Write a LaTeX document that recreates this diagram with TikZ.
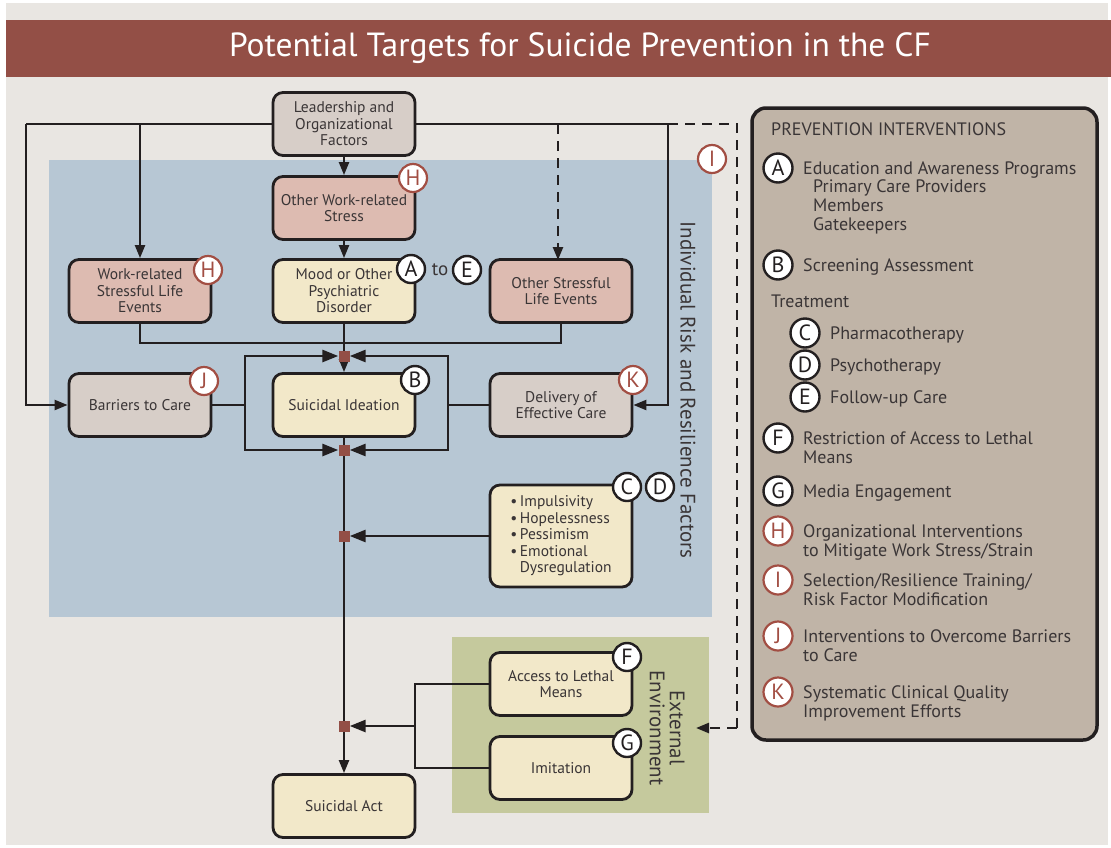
\documentclass[tikz,border=0pt]{standalone}
\usepackage{fontspec}
\setmainfont{PT Sans}
\usetikzlibrary{arrows.meta,backgrounds}
\definecolor{bgc}{HTML}{E9E6E2}
\definecolor{titlec}{HTML}{934F46}
\definecolor{bluec}{HTML}{B7C7D4}
\definecolor{greenc}{HTML}{C5C99D}
\definecolor{panelc}{HTML}{C0B4A7}
\definecolor{grayn}{HTML}{D7CEC8}
\definecolor{pinkn}{HTML}{DDBBB1}
\definecolor{creamn}{HTML}{F2E8C9}
\definecolor{redb}{HTML}{A24E43}
\definecolor{ink}{HTML}{231F20}
\definecolor{txt}{HTML}{3A3536}
\pgfdeclarelayer{base}
\pgfdeclarelayer{regions}
\pgfdeclarelayer{lines}
\pgfsetlayers{base,regions,lines,main}
\tikzset{
  box/.style={draw=ink, line width=2.8pt, rounded corners=10pt, minimum width=142pt,
    minimum height=63pt, align=center, inner sep=2pt, text=txt,
    font=\fontsize{15.5}{16.5}\selectfont},
  conn/.style={draw=ink, line width=2.2pt},
  arr/.style={conn, -{Triangle[length=13pt,width=10pt]}},
  thk/.style={conn, line width=2.8pt},
  tarr/.style={thk, -{Triangle[length=16pt,width=12pt]}},
  dconn/.style={conn, line width=2.4pt, dash pattern=on 10pt off 7pt},
  sq/.style={fill=titlec, minimum size=11pt, inner sep=0pt},
  badgeR/.style={circle, draw=redb, line width=2.2pt, fill=white, text=redb,
    minimum size=28pt, inner sep=0pt, font=\fontsize{22}{22}\selectfont},
  badgeK/.style={circle, draw=ink, line width=2.4pt, fill=white, text=ink,
    minimum size=28pt, inner sep=0pt, font=\fontsize{22}{22}\selectfont},
  ptxt/.style={anchor=base west, inner sep=0pt, text=txt,
    font=\fontsize{18}{19}\selectfont},
  sidelbl/.style={text=txt, font=\fontsize{21}{20}\selectfont, rotate=-90, align=center}
}
\begin{document}
\begin{tikzpicture}[x=1pt,y=-1pt]
\useasboundingbox (0,0) rectangle (1111,847);
\begin{pgfonlayer}{base}
\fill[white] (0,0) rectangle (1111,847);
\fill[bgc] (6,3) rectangle (1108,845);
\fill[titlec] (6,20) rectangle (1111,77);
\end{pgfonlayer}
% title
\node[text=white, font=\fontsize{33.5}{34}\selectfont] (title) at (580,48) {Potential Targets for Suicide Prevention in the CF};

% regions
\begin{pgfonlayer}{regions}
\fill[bluec] (49,160) rectangle (712,617);
\fill[greenc] (452,637) rectangle (709,813);
\end{pgfonlayer}

% nodes
\node[box, fill=grayn] (lead) at (344,124) {Leadership and\\Organizational\\Factors};
\node[box, fill=pinkn] (ows) at (344,208) {Other Work-related\\Stress};
\node[box, fill=pinkn] (wr) at (140,291) {Work-related\\Stressful Life\\Events};
\node[box, fill=creamn] (mood) at (344,291) {Mood or Other\\Psychiatric\\Disorder};
\node[box, fill=pinkn] (ose) at (561,291) {Other Stressful\\Life Events};
\node[box, fill=grayn] (barr) at (140,405) {Barriers to Care};
\node[box, fill=creamn] (si) at (344,405) {Suicidal Ideation};
\node[box, fill=grayn] (deliv) at (561,405) {Delivery of\\Effective Care};
\node[box, fill=creamn, minimum height=102pt, align=left] (bul) at (561,536)
  {\textbullet\,Impulsivity\\\textbullet\,Hopelessness\\\textbullet\,Pessimism\\\textbullet\,Emotional\\\phantom{\textbullet\,}Dysregulation};
\node[box, fill=creamn] (alm) at (561,684) {Access to Lethal\\Means};
\node[box, fill=creamn] (imi) at (561,768) {Imitation};
\node[box, fill=creamn] (act) at (344,806) {Suicidal Act};

% junction squares
\node[sq] (s1) at (344,356) {};
\node[sq] (s2) at (344,450) {};
\node[sq] (s3) at (344,536) {};
\node[sq] (s4) at (344,726) {};

% coordinates
\coordinate (cL) at (26,124);
\coordinate (cR) at (668,124);
\coordinate (cD1) at (737,124);
\coordinate (cD2) at (737,728);
\coordinate (cD3) at (696,728);
\coordinate (hj) at (140,343);
\coordinate (lL) at (245,405);
\coordinate (lR) at (448,405);
\coordinate (ej) at (415,726);

\begin{pgfonlayer}{lines}
\draw[conn] (lead.west) -- (cL);
\draw[arr] (cL) |- (barr.west);
\draw[conn] (lead.east) -- (cR);
\draw[arr] (cR) |- (deliv.east);
\draw[arr] (wr.north |- cL) -- (wr.north);
\draw[dconn, -{Triangle[length=13pt,width=10pt]}] (558,124) -- (558,260);
\draw[dconn] (cR) -- (cD1) -- (cD2);
\draw[dconn, -{Triangle[length=13pt,width=10pt]}] (cD2) -- (cD3);
\draw[arr] (lead.south) -- (ows.north);
\draw[arr] (ows.south) -- (mood.north);
\draw[conn] (wr.south) -- (hj) -| (ose.south);
\draw[arr] (mood.south) -- (si.north);
\draw[conn] (barr.east) -- (lL);
\draw[conn] (deliv.west) -- (lR);
\draw[tarr] (lL) |- (s1.west);
\draw[tarr] (lL) |- (s2.west);
\draw[tarr] (lR) |- (s1.east);
\draw[tarr] (lR) |- (s2.east);
\draw[arr] (si.south) -- (act.north);
\draw[tarr] (bul.west) -- (s3.east);
\draw[thk] (alm.west) -| (ej);
\draw[thk] (imi.west) -| (ej);
\draw[tarr] (ej) -- (s4.east);
\end{pgfonlayer}

% side labels
\node[sidelbl] (irf) at (688,390) {Individual Risk and Resilience Factors};
\node[sidelbl] (ext) at (667,728) {External\\Environment};

% badges on diagram
\node[badgeR] (bH1) at (413,178) {H};
\node[badgeR] (bH2) at (208,270) {H};
\node[badgeK] (bA) at (411,269) {A};
\node[text=txt, font=\fontsize{19}{19}\selectfont] (to) at (440,270) {to};
\node[badgeK] (bE) at (467,270) {E};
\node[badgeR] (bJ) at (204,381) {J};
\node[badgeK] (bB) at (415,380) {B};
\node[badgeR] (bK) at (633,380) {K};
\node[badgeK] (bC) at (627,487) {C};
\node[badgeK] (bD) at (660,487) {D};
\node[badgeR] (bI) at (712,159) {I};
\node[badgeK] (bF) at (627,657) {F};
\node[badgeK] (bG) at (627,743) {G};

% right panel
\draw[fill=panelc, draw=ink, line width=3.5pt, rounded corners=14pt] (752,108) rectangle (1097,740);
\node[ptxt] (ph) at (771,135) {PREVENTION INTERVENTIONS};
\node[badgeK, minimum size=29pt] (pA) at (778,168) {A};
\node[ptxt] (tA) at (803,174) {Education and Awareness Programs};
\node[ptxt] (tA2) at (813,192) {\begin{tabular}[t]{@{}l@{}}Primary Care Providers\\Members\\Gatekeepers\end{tabular}};
\node[badgeK, minimum size=29pt] (pB) at (778,265) {B};
\node[ptxt] (tB) at (803,271) {Screening Assessment};
\node[ptxt] (tT) at (771,307) {Treatment};
\node[badgeK, minimum size=29pt] (pC) at (805,333) {C};
\node[ptxt] (tC) at (830,339) {Pharmacotherapy};
\node[badgeK, minimum size=29pt] (pD) at (805,365) {D};
\node[ptxt] (tD) at (830,371) {Psychotherapy};
\node[badgeK, minimum size=29pt] (pE) at (805,397) {E};
\node[ptxt] (tE) at (830,403) {Follow-up Care};
\node[badgeK, minimum size=29pt] (pF) at (778,438) {F};
\node[ptxt] (tF) at (803,444) {\begin{tabular}[t]{@{}l@{}}Restriction of Access to Lethal\\Means\end{tabular}};
\node[badgeK, minimum size=29pt] (pG) at (778,491) {G};
\node[ptxt] (tG) at (803,497) {Media Engagement};
\node[badgeR, minimum size=29pt] (pH) at (778,531) {H};
\node[ptxt] (tH) at (803,537) {\begin{tabular}[t]{@{}l@{}}Organizational Interventions\\to Mitigate Work Stress/Strain\end{tabular}};
\node[badgeR, minimum size=29pt] (pI) at (778,580) {I};
\node[ptxt] (tI) at (803,586) {\begin{tabular}[t]{@{}l@{}}Selection/Resilience Training/\\Risk Factor Modification\end{tabular}};
\node[badgeR, minimum size=29pt] (pJ) at (778,636) {J};
\node[ptxt] (tJ) at (803,642) {\begin{tabular}[t]{@{}l@{}}Interventions to Overcome Barriers\\to Care\end{tabular}};
\node[badgeR, minimum size=29pt] (pK) at (778,692) {K};
\node[ptxt] (tK) at (803,698) {\begin{tabular}[t]{@{}l@{}}Systematic Clinical Quality\\Improvement Efforts\end{tabular}};
\end{tikzpicture}
\end{document}
